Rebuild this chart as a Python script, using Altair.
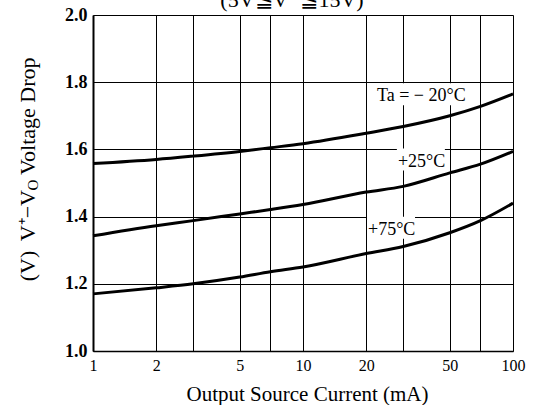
import altair as alt
import pandas as pd

# Output source current (mA), sampled along each curve
current_ma = [1, 2, 3, 5, 7, 10, 20, 30, 50, 70, 100]

# V+ - Vo voltage drop (V) for each ambient temperature
drop_m20 = [1.558, 1.570, 1.580, 1.594, 1.605, 1.617, 1.648, 1.668, 1.700, 1.728, 1.765]
drop_p25 = [1.343, 1.373, 1.388, 1.408, 1.421, 1.436, 1.473, 1.490, 1.530, 1.556, 1.594]
drop_p75 = [1.170, 1.188, 1.200, 1.220, 1.236, 1.250, 1.290, 1.311, 1.352, 1.388, 1.440]

series_names = ["-20", "+25", "+75"]
series_values = [drop_m20, drop_p25, drop_p75]

# Curve annotations
label_text = ["Ta = − 20°C", "+25°C", "+75°C"]
label_x = [22.5, 28.3, 20.4]
label_y = [1.743, 1.549, 1.346]

x_grid = [1, 2, 3, 5, 7, 10, 20, 30, 50, 70, 100]
y_grid = [1.0, 1.2, 1.4, 1.6, 1.8, 2.0]

SERIF = "Liberation Serif"
PLOT_W, PLOT_H = 420, 336
PX_PER_DECADE = PLOT_W / 2.0   # log axis spans two decades
PX_PER_VOLT = PLOT_H / 1.0     # linear axis spans 1 V

rows = []
for name, vals in zip(series_names, series_values):
    for c, v in zip(current_ma, vals):
        rows.append({"series": name, "current": c, "drop": v})
curves_df = pd.DataFrame(rows)
labels_df = pd.DataFrame({"text": label_text, "x": label_x, "y": label_y})

# White boxes behind the labels, so the grid is broken where the text sits
labels_df["bx0"] = labels_df["x"] * 10 ** (-1 / PX_PER_DECADE)
labels_df["bx1"] = labels_df["x"] * 10 ** (
    (labels_df["text"].str.len() * 8.6 + 4) / PX_PER_DECADE
)
labels_df["by0"] = labels_df["y"] - 4 / PX_PER_VOLT
labels_df["by1"] = labels_df["y"] + 18 / PX_PER_VOLT
one = pd.DataFrame({"k": [0]})

x_scale = alt.Scale(type="log", domain=[1, 100], nice=False)
y_scale = alt.Scale(domain=[1.0, 2.0], nice=False, zero=False)

x_axis = alt.Axis(
    values=x_grid,
    format="d",
    labelExpr="indexof([3, 7, 30, 70], datum.value) >= 0 ? '' : datum.label",
    ticks=False,
    labelFlush=False,
    labelPadding=6,
    labelFont=SERIF,
    labelFontSize=16,
    labelColor="black",
    grid=True,
    gridColor="black",
    gridWidth=1,
    domainColor="black",
    domainWidth=1.5,
    title="Output Source Current (mA)",
    titleFont=SERIF,
    titleFontSize=21,
    titleFontWeight="normal",
    titleColor="black",
    titleX=214,
    titleY=49,
    titleBaseline="alphabetic",
    titleAlign="center",
)

y_axis = alt.Axis(
    values=y_grid,
    format=".1f",
    ticks=False,
    labelPadding=6,
    labelFont=SERIF,
    labelFontSize=18,
    labelFontWeight="bold",
    labelColor="black",
    grid=True,
    gridColor="black",
    gridWidth=1,
    domainColor="black",
    domainWidth=2,
    title=None,
)

curves = alt.Chart(curves_df).mark_line(
    color="black", strokeWidth=3, interpolate="monotone"
).encode(
    x=alt.X("current:Q", scale=x_scale, axis=x_axis),
    y=alt.Y("drop:Q", scale=y_scale, axis=y_axis),
    detail="series:N",
)

label_boxes = alt.Chart(labels_df).mark_rect(color="white").encode(
    x=alt.X("bx0:Q", scale=x_scale),
    x2="bx1:Q",
    y=alt.Y("by0:Q", scale=y_scale),
    y2="by1:Q",
)

labels = alt.Chart(labels_df).mark_text(
    font=SERIF, fontSize=18, color="black", align="left", baseline="alphabetic"
).encode(
    x=alt.X("x:Q", scale=x_scale),
    y=alt.Y("y:Q", scale=y_scale),
    text="text:N",
)


def rotated(text, y, size=22, align="center", dy=0):
    return alt.Chart(one).mark_text(
        font=SERIF, fontSize=size, color="black", angle=270,
        align=align, baseline="middle", dy=dy,
    ).encode(x=alt.value(-65), y=alt.value(y), text=alt.value(text))


# Rotated y-axis caption: "V+ - Vo  Voltage Drop" and the unit below it
y_title = alt.layer(
    rotated("V⁺−V", 175, align="right"),
    rotated("O", 170, size=15, dy=5),
    rotated("Voltage Drop", 160, align="left"),
    rotated("(V)", 251),
)

# Supply condition caption along the top edge
top_note = alt.Chart(one).mark_text(
    font=SERIF, fontSize=22, color="black", align="center", baseline="alphabetic"
).encode(x=alt.value(199), y=alt.value(-8), text=alt.value("(5V≦V⁺≦15V)"))

chart = alt.layer(curves, label_boxes, labels, y_title, top_note).properties(
    width=PLOT_W,
    height=PLOT_H,
    autosize=alt.AutoSizeParams(type="none"),
    padding={"left": 93, "top": 15, "right": 21, "bottom": 54},
).configure_view(
    stroke="black", strokeWidth=1.5
).configure(background="white")

chart.save("out.html", embed_options={"renderer": "svg", "actions": False})
